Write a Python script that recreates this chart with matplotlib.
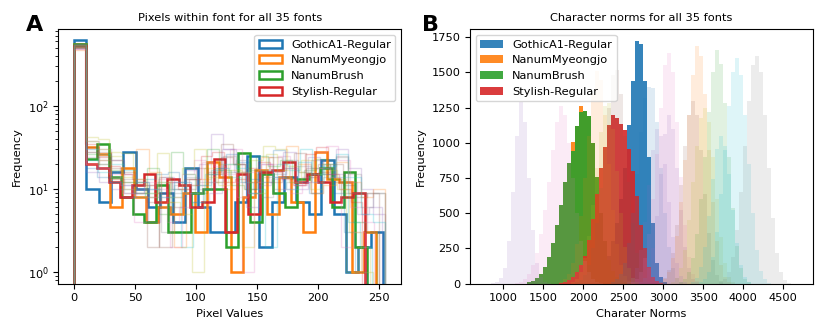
import numpy as np
import matplotlib
matplotlib.use("Agg")
import matplotlib.pyplot as plt

plt.rcParams['font.family'] = ['DejaVu Sans']

# ---------------- Panel A data: pixel-value histograms (25 bins each, 0..max) ----------------
highlight_names = ["GothicA1-Regular", "NanumMyeongjo", "NanumBrush", "Stylish-Regular"]
highlight_colors = ["#1f77b4", "#ff7f0e", "#2ca02c", "#d62728"]

pix_gothic = [620, 10, 7, 16, 28, 10, 6, 9, 4, 18, 6, 3, 3, 7, 25, 2, 7, 14, 7, 5, 22, 5, 1, 2, 3]
pix_myeongjo = [550, 32, 26, 6, 18, 8, 4, 6, 5, 9, 3, 21, 14, 1, 8, 17, 5, 14, 7, 3, 28, 13, 12, 1, 3]
pix_brush = [560, 23, 35, 14, 8, 5, 4, 11, 3, 3, 9, 10, 10, 2, 27, 4, 15, 9, 6, 13, 15, 18, 6, 16, 2]
pix_stylish = [520, 20, 18, 12, 8, 11, 15, 7, 13, 11, 6, 7, 23, 3, 15, 5, 16, 17, 21, 12, 15, 12, 7, 8, 9]
pix_max_highlight = [253, 247, 240, 238]

bgA_01 = [500, 38, 30, 22, 15, 12, 10, 14, 8, 11, 20, 46, 30, 12, 9, 20, 14, 18, 12, 22, 15, 30, 18, 10, 5]
bgA_02 = [560, 28, 25, 18, 12, 9, 7, 2, 6, 10, 18, 15, 35, 20, 12, 16, 24, 14, 11, 18, 20, 12, 9, 8, 9]
bgA_03 = [480, 30, 20, 14, 9, 4, 8, 13, 2, 15, 22, 12, 18, 30, 1, 12, 20, 25, 9, 14, 28, 33, 22, 6, 4]
bgA_04 = [520, 24, 18, 16, 13, 10, 11, 3, 9, 13, 12, 15, 25, 20, 9, 14, 10, 12, 19, 18, 22, 25, 15, 9, 9]
bgA_05 = [540, 42, 40, 28, 27, 12, 8, 27, 7, 5, 1, 18, 12, 20, 16, 22, 33, 30, 19, 16, 10, 20, 13, 1, 2]
bgA_06 = [500, 22, 16, 12, 10, 8, 9, 12, 10, 2, 7, 15, 18, 14, 12, 10, 2, 20, 17, 30, 12, 20, 14, 4, 2]
bgA_07 = [510, 18, 14, 12, 11, 9, 13, 15, 16, 12, 7, 10, 18, 26, 21, 13, 12, 29, 14, 12, 9, 15, 9, 3, 1]
bgA_08 = [470, 20, 22, 13, 10, 30, 16, 7, 2, 11, 13, 20, 10, 16, 12, 24, 17, 33, 20, 9, 11, 21, 12, 8, 10]
bgA_09 = [530, 26, 20, 17, 12, 9, 18, 5, 28, 15, 9, 30, 17, 11, 10, 25, 19, 22, 13, 17, 23, 13, 8, 4, 3]
bgA_10 = [490, 35, 24, 19, 15, 13, 11, 9, 12, 10, 13, 25, 28, 12, 13, 18, 21, 16, 13, 11, 26, 32, 15, 10, 7]
bgA_11 = [550, 16, 12, 10, 8, 10, 4, 8, 12, 17, 6, 9, 30, 16, 6, 11, 13, 28, 10, 24, 18, 15, 12, 5, 6]
bgA_12 = [500, 32, 28, 22, 16, 12, 2, 14, 10, 13, 11, 16, 24, 20, 10, 15, 12, 18, 27, 14, 16, 20, 11, 9, 3]
bgA_13 = [480, 20, 18, 15, 11, 9, 12, 10, 4, 6, 9, 21, 19, 15, 8, 16, 20, 14, 10, 11, 12, 18, 14, 2, 3]
bgA_14 = [520, 28, 22, 13, 9, 11, 8, 6, 11, 14, 10, 12, 16, 22, 17, 8, 15, 22, 16, 9, 14, 24, 9, 6, 9]
bgA_15 = [510, 38, 30, 25, 14, 13, 9, 12, 8, 18, 30, 14, 11, 17, 2, 9, 26, 17, 12, 22, 15, 17, 10, 3, 1]
bgA_16 = [540, 30, 26, 20, 17, 12, 10, 8, 12, 9, 11, 17, 20, 18, 9, 17, 14, 10, 21, 15, 19, 26, 14, 5, 4]
bgA_max = [255, 250, 246, 255, 242, 244, 240, 255, 248, 236, 252, 250, 238, 255, 245, 255]

# ---------------- Panel B data: character-norm histograms (bins of 50) ----------------
norm_bin_width = 50

norm_gothic_start = 2000
norm_gothic = [5, 12, 25, 45, 80, 130, 200, 300, 430, 600, 820, 1130, 1440, 1720, 1700,
               1440, 900, 430, 150, 50, 14]
norm_myeongjo_start = 1300
norm_myeongjo = [10, 20, 40, 70, 120, 190, 290, 420, 560, 720, 860, 1005, 1120, 1265, 1225,
                 1190, 1000, 760, 500, 300, 170, 90, 50, 25, 12, 5]
norm_brush_start = 1300
norm_brush = [10, 20, 40, 70, 120, 190, 290, 420, 560, 720, 860, 945, 1120, 1220, 1225,
              1190, 1000, 760, 500, 300, 170, 90, 50, 25, 12, 5]
norm_stylish_start = 1700
norm_stylish = [5, 12, 25, 45, 80, 130, 200, 310, 460, 640, 820, 970, 1124, 1200, 1180,
                1136, 1089, 960, 800, 620, 420, 250, 120, 50, 18, 6]

bgB_starts = [850, 1150, 1700, 1900, 1850, 2350, 2600, 2700, 2950, 2950, 3200, 3100, 3450, 3700, 3350, 2550]
bgB_01 = [5, 15, 40, 110, 300, 650, 1050, 1290, 1150, 750, 380, 150, 50, 15, 5]
bgB_02 = [5, 15, 35, 70, 130, 220, 350, 520, 720, 950, 1150, 1260, 1200, 1000, 750, 500, 300, 160, 80, 35, 15, 5]
bgB_03 = [10, 30, 70, 150, 280, 480, 750, 1050, 1350, 1510, 1450, 1200, 850, 520, 280, 130, 55, 20, 8]
bgB_04 = [10, 25, 60, 130, 250, 430, 680, 950, 1250, 1480, 1520, 1350, 1050, 720, 430, 220, 100, 40, 15, 5]
bgB_05 = [10, 30, 80, 180, 340, 560, 820, 1080, 1260, 1280, 1100, 800, 500, 260, 110, 40, 12]
bgB_06 = [10, 30, 70, 150, 290, 500, 780, 1080, 1320, 1400, 1390, 1150, 820, 500, 260, 110, 40, 12]
bgB_07 = [10, 30, 80, 180, 350, 600, 920, 1250, 1550, 1640, 1500, 1150, 760, 420, 190, 70, 20]
bgB_08 = [10, 40, 110, 250, 480, 780, 1060, 1200, 1100, 820, 520, 260, 110, 35, 10]
bgB_09 = [10, 30, 80, 180, 340, 580, 880, 1200, 1480, 1690, 1620, 1350, 950, 580, 300, 130, 45, 12]
bgB_10 = [10, 40, 100, 220, 420, 700, 980, 1200, 1300, 1200, 950, 640, 360, 170, 60, 20]
bgB_11 = [10, 30, 80, 180, 350, 600, 900, 1220, 1500, 1660, 1560, 1280, 900, 540, 270, 110, 35, 10]
bgB_12 = [10, 40, 110, 240, 450, 720, 980, 1180, 1250, 1150, 900, 600, 330, 150, 50, 15]
bgB_13 = [10, 30, 80, 190, 370, 640, 950, 1260, 1500, 1600, 1480, 1200, 850, 500, 240, 90, 30, 8]
bgB_14 = [10, 30, 80, 190, 380, 650, 980, 1300, 1550, 1620, 1500, 1200, 820, 470, 220, 80, 25, 8]
bgB_15 = [10, 40, 120, 260, 480, 740, 960, 1050, 980, 780, 520, 290, 130, 45, 12]
bgB_16 = [10, 40, 110, 240, 440, 700, 950, 1100, 1050, 850, 580, 330, 150, 55, 15]

bgA_colors = ["#9467bd", "#8c564b", "#e377c2", "#7f7f7f", "#bcbd22", "#17becf", "#1f77b4", "#ff7f0e",
              "#2ca02c", "#d62728", "#9467bd", "#8c564b", "#e377c2", "#7f7f7f", "#bcbd22", "#17becf"]
bgB_colors = ["#9467bd", "#e377c2", "#ff7f0e", "#8c564b", "#bcbd22", "#1f77b4", "#e377c2", "#9467bd",
              "#ff7f0e", "#8c564b", "#2ca02c", "#bcbd22", "#17becf", "#7f7f7f", "#17becf", "#9467bd"]

# ---------------- Figure ----------------
fig = plt.figure(figsize=(8.3, 3.32), dpi=100)
axA = fig.add_axes([0.0703, 0.1455, 0.4129, 0.766])
axB = fig.add_axes([0.5663, 0.1455, 0.4136, 0.766])

FS = 8.2

# Panel A
pix_series = [pix_gothic, pix_myeongjo, pix_brush, pix_stylish]
for name, col, vals, mx in zip(highlight_names, highlight_colors, pix_series, pix_max_highlight):
    edges = np.linspace(0, mx, len(vals) + 1)
    axA.hist(edges[:-1], bins=edges, weights=vals, histtype='step', color=col, lw=1.8, label=name)
bgA = [bgA_01, bgA_02, bgA_03, bgA_04, bgA_05, bgA_06, bgA_07, bgA_08,
       bgA_09, bgA_10, bgA_11, bgA_12, bgA_13, bgA_14, bgA_15, bgA_16]
for vals, mx, col in zip(bgA, bgA_max, bgA_colors):
    edges = np.linspace(0, mx, len(vals) + 1)
    axA.hist(edges[:-1], bins=edges, weights=vals, histtype='step', color=col, lw=1.0, alpha=0.25)
axA.set_yscale('log')
axA.set_xlim(-12.75, 267.75)
axA.set_ylim(0.717, 832)
axA.set_xticks([0, 50, 100, 150, 200, 250])
axA.set_title("Pixels within font for all 35 fonts", fontsize=FS)
axA.set_xlabel("Pixel Values", fontsize=FS)
axA.set_ylabel("Frequency", fontsize=FS)
axA.tick_params(labelsize=FS)
axA.legend(loc='upper right', fontsize=FS)

# Panel B
norm_series = [(norm_gothic_start, norm_gothic), (norm_myeongjo_start, norm_myeongjo),
               (norm_brush_start, norm_brush), (norm_stylish_start, norm_stylish)]
for name, col, (st, vals) in zip(highlight_names, highlight_colors, norm_series):
    edges = st + norm_bin_width * np.arange(len(vals) + 1)
    axB.hist(edges[:-1], bins=edges, weights=vals, histtype='stepfilled', color=col,
             alpha=0.9, lw=0, label=name)
bgB = [bgB_01, bgB_02, bgB_03, bgB_04, bgB_05, bgB_06, bgB_07, bgB_08,
       bgB_09, bgB_10, bgB_11, bgB_12, bgB_13, bgB_14, bgB_15, bgB_16]
for st, vals, col in zip(bgB_starts, bgB, bgB_colors):
    edges = st + norm_bin_width * np.arange(len(vals) + 1)
    axB.hist(edges[:-1], bins=edges, weights=vals, histtype='stepfilled', color=col,
             alpha=0.14, lw=0)
axB.set_xlim(584, 4875)
axB.set_ylim(0, 1806)
axB.set_xticks([1000, 1500, 2000, 2500, 3000, 3500, 4000, 4500])
axB.set_yticks([0, 250, 500, 750, 1000, 1250, 1500, 1750])
axB.set_title("Character norms for all 35 fonts", fontsize=FS)
axB.set_xlabel("Charater Norms", fontsize=FS)
axB.set_ylabel("Frequency", fontsize=FS)
axB.tick_params(labelsize=FS)
axB.legend(loc='upper left', fontsize=FS)

fig.text(0.031, 0.9075, "A", fontsize=16, fontweight='bold', va='baseline', ha='left')
fig.text(0.5084, 0.9075, "B", fontsize=16, fontweight='bold', va='baseline', ha='left')

fig.savefig("out.png", dpi=100)
